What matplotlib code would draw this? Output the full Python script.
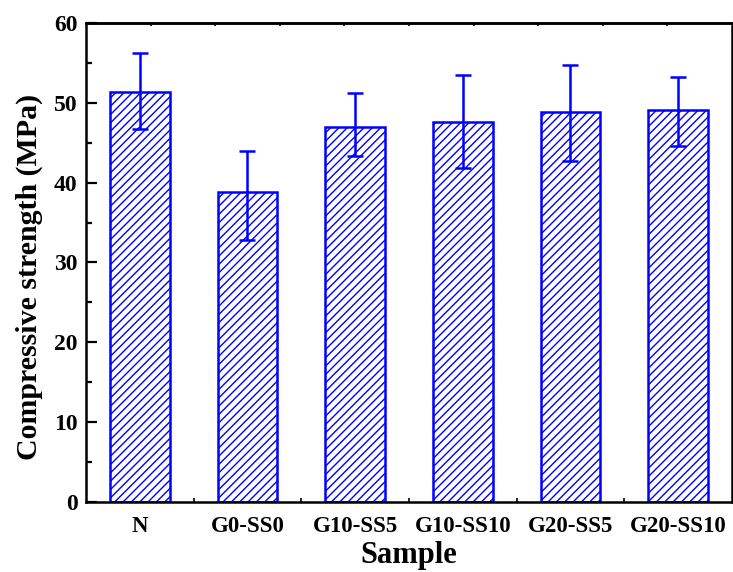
import matplotlib.pyplot as plt
import numpy as np

samples = ['N', 'G0-SS0', 'G10-SS5', 'G10-SS10', 'G20-SS5', 'G20-SS10']
strength = [51.3, 38.8, 47.0, 47.6, 48.9, 49.1]
err_low = [4.6, 6.0, 3.6, 5.8, 6.2, 4.5]
err_high = [5.0, 5.2, 4.2, 5.9, 5.8, 4.1]

plt.rcParams['font.family'] = 'Liberation Serif'
plt.rcParams['font.weight'] = 'bold'
plt.rcParams['hatch.linewidth'] = 1.0
plt.rcParams['hatch.color'] = 'blue'

fig = plt.figure(figsize=(7.33, 5.72), dpi=100)
ax = fig.add_axes([0.1173, 0.1224, 0.8813, 0.8374])

x = np.arange(1, len(samples) + 1)
ax.bar(x, strength, width=0.555, color='white', edgecolor='blue',
       linewidth=1.8, hatch='////', zorder=2)
ax.errorbar(x, strength, yerr=[err_low, err_high], fmt='none', ecolor='blue',
            elinewidth=1.8, capsize=5.5, capthick=1.8, zorder=3)

ax.set_xlim(0.5, 6.5)
ax.set_ylim(0, 60)
ax.set_xticks(x)
ax.set_xticklabels(samples, fontsize=16.5, fontweight='bold')
ax.set_xticks(x[:-1] + 0.5, minor=True)
ax.set_yticks(np.arange(0, 61, 10))
ax.set_yticks(np.arange(5, 60, 10), minor=True)
ax.tick_params(axis='y', which='major', direction='in', length=8, width=1.6, labelsize=17, pad=6)
ax.tick_params(axis='y', which='minor', direction='in', length=4, width=1.6)
ax.tick_params(axis='x', which='major', length=0, pad=10)
ax.tick_params(axis='x', which='minor', direction='in', length=3, width=1.2)
for lab in ax.get_yticklabels():
    lab.set_fontweight('bold')

for s in ax.spines.values():
    s.set_linewidth(1.8)

top = ax.secondary_xaxis('top')
top.set_xticks(0.5 + 0.6 * np.arange(1, 10))
top.set_xticklabels([])
top.tick_params(direction='in', length=2, width=1.2)
top.spines['top'].set_linewidth(1.8)

ax.set_xlabel('Sample', fontsize=22, fontweight='bold', labelpad=3)
ax.set_ylabel('Compressive strength (MPa)', fontsize=21.5, fontweight='bold')
ax.yaxis.set_label_coords(-0.066, 0.47)

fig.savefig('out.png', dpi=100)
